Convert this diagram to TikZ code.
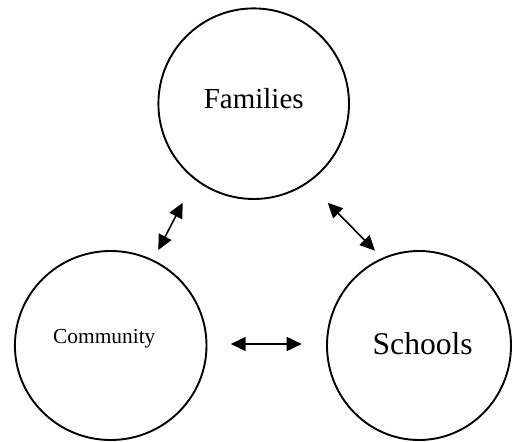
\documentclass[tikz,border=0pt]{standalone}
\usepackage{fontspec}
\setmainfont{Liberation Serif}
\usetikzlibrary{shapes.geometric,arrows.meta}
\tikzstyle{link} = [draw, line width=0.8pt, {Triangle[length=7.5pt,width=7pt]}-{Triangle[length=7.5pt,width=7pt]}]
\tikzstyle{bubble} = [draw, ellipse, line width=0.95pt, inner sep=0pt]

\begin{document}
\begin{tikzpicture}[x=0.5pt, y=-0.5pt]
        \useasboundingbox (0,0) rectangle (513,442);
        \node[bubble, minimum width=95.3pt, minimum height=95.3pt,
              label={[font=\fontsize{14.5}{17}\selectfont, yshift=2.5pt]center:Families}] (families) at (253.7,103.7) {};
        \node[bubble, minimum width=95.8pt, minimum height=94.5pt,
              label={[font=\fontsize{10.7}{13}\selectfont, xshift=-3.2pt, yshift=3.4pt]center:Community}] (community) at (110.7,345.5) {};
        \node[bubble, minimum width=92pt, minimum height=94.5pt,
              label={[font=\fontsize{15.8}{19}\selectfont, xshift=1.85pt, yshift=1.1pt]center:Schools}] (schools) at (419,345.5) {};
        \coordinate (comtop) at (158.3,250);
        \coordinate (famleft) at (182.7,202.7);
        \coordinate (famright) at (327.7,202.7);
        \coordinate (schtop) at (375,250.7);
        \coordinate (comright) at (230.7,344);
        \coordinate (schleft) at (301.7,344);
        \path[link] (comtop) -- (famleft);
        \path[link] (famright) -- (schtop);
        \path[link] (comright) -- (schleft);
    \end{tikzpicture}
\end{document}
